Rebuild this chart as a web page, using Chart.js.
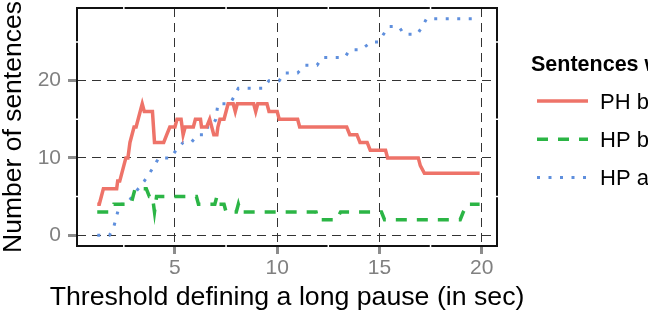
<!DOCTYPE html>
<html>
<head>
<meta charset="utf-8">
<script src="https://cdn.jsdelivr.net/npm/chart.js@4.4.1/dist/chart.umd.min.js"></script>
<style>
  html, body { margin: 0; padding: 0; background: #fff; overflow: hidden; }
  canvas { display: block; }
</style>
</head>
<body>
<canvas id="pauseChart" width="648" height="312"></canvas>
<script>
// Values (threshold in sec -> number of sentences)
const phT  = [1.2,1.3,1.4,1.5,2.15,2.2,2.3,2.4,2.5,2.6,2.7,2.8,2.9,3.0,3.1,3.2,3.3,3.4,3.5,3.9,4.0,4.45,4.6,4.75,5.0,5.1,5.3,5.4,5.5,5.9,6.0,6.25,6.3,6.55,6.7,6.8,6.9,7.05,7.1,7.2,7.4,7.5,7.6,7.85,7.95,8.05,8.85,8.95,9.05,9.5,9.6,10.0,10.1,11.0,11.1,13.4,13.55,13.9,14.05,14.4,14.55,15.3,15.4,16.9,17.0,17.2,19.9];
const phN  = [4,4,5,6,6,7,7,8,9,10,10,12,13,14,14,15,16,17,16,16,12,12,13,14,14,15,15,13,14,14,15,15,14,14,15,14,13,13,14,15,15,16,17,17,16,17,17,16,17,17,16,16,15,15,14,14,13,13,12,12,11,11,10,10,9,8,8];

const hpbT = [1.2,1.8,2.0,2.85,2.95,3.05,3.6,3.75,3.9,4.0,4.1,6.05,6.15,6.95,7.05,7.15,7.4,7.5,8.0,8.1,8.2,11.9,12.0,12.9,13.1,15.1,15.25,18.95,19.1,19.3,19.9];
const hpbN = [3,3,4,4,5,6,6,5,5,3,5,5,4,4,5,4,4,3,3,4,3,3,2,2,3,3,2,2,3,4,4];

const hpaT = [1.2,1.8,2.0,2.1,2.2,2.3,2.65,2.9,3.2,3.5,3.75,4.0,4.2,4.8,5.05,5.4,5.8,6.1,6.45,6.6,6.8,7.0,7.1,7.7,7.9,8.1,9.3,9.6,10.1,10.35,11.0,11.35,11.95,12.2,13.3,13.55,14.1,14.6,14.95,15.2,15.45,15.95,16.2,16.85,17.1,17.3,19.8];
const hpaN = [0,0,1,2,3,4,4,5,6,7,8,9,10,10,11,12,12,13,13,14,14,15,17,17,18,19,19,20,20,21,21,22,22,23,23,24,24,25,25,26,27,27,26,26,27,28,28];

const seriesLabels = ['PH before HP', 'HP before PH', 'HP after PH'];
const legendTitle = 'Sentences with';
const xTitle = 'Threshold defining a long pause (in sec)';
const yTitle = 'Number of sentences';
const xTicks = [5, 10, 15, 20];
const yTicks = [0, 10, 20];
const xMinor = [2.5, 7.5, 12.5, 17.5];
const yMinor = [5, 15, 25];

const FONT = "'Liberation Sans', Arial, Helvetica, sans-serif";
const pts = (t, n) => t.map((v, i) => ({ x: v, y: n[i] }));

// panel border (with white minor-grid notches), x title and the legend on the right
const panelPlugin = {
  id: 'panel',
  beforeDatasetsDraw(chart) {
    const { ctx, chartArea: a, scales } = chart;
    ctx.save();
    ctx.strokeStyle = '#111';
    ctx.lineWidth = 2;
    ctx.strokeRect(a.left, a.top, a.right - a.left, a.bottom - a.top);
    ctx.strokeStyle = '#fff';
    ctx.lineWidth = 1.5;
    ctx.beginPath();
    xMinor.forEach(v => {
      const px = scales.x.getPixelForValue(v);
      ctx.moveTo(px, a.top - 2); ctx.lineTo(px, a.top + 2);
      ctx.moveTo(px, a.bottom - 2); ctx.lineTo(px, a.bottom + 2);
    });
    yMinor.forEach(v => {
      const py = scales.y.getPixelForValue(v);
      ctx.moveTo(a.left - 2, py); ctx.lineTo(a.left + 2, py);
      ctx.moveTo(a.right - 2, py); ctx.lineTo(a.right + 2, py);
    });
    ctx.stroke();
    ctx.restore();
  },
  afterDraw(chart) {
    const { ctx, chartArea: a } = chart;
    ctx.save();
    ctx.fillStyle = '#000';
    ctx.textBaseline = 'alphabetic';
    // x axis title, drawn here so it is not squeezed to the panel width
    ctx.textAlign = 'center';
    ctx.font = '26.7px ' + FONT;
    ctx.fillText(xTitle, (a.left + a.right) / 2, 305);
    ctx.textAlign = 'left';
    ctx.font = 'bold 21.5px ' + FONT;
    ctx.fillText(legendTitle, 531, 71);
    chart.data.datasets.forEach((ds, i) => {
      const y = 101 + i * 38.3;
      ctx.strokeStyle = ds.borderColor;
      ctx.lineWidth = ds.borderWidth;
      ctx.setLineDash(ds.borderDash || []);
      ctx.beginPath();
      ctx.moveTo(537, y);
      ctx.lineTo(588, y);
      ctx.stroke();
      ctx.setLineDash([]);
      ctx.font = '22px ' + FONT;
      ctx.fillText(ds.label, 600, y + 7.8);
    });
    ctx.restore();
  }
};

const ctx = document.getElementById('pauseChart').getContext('2d');
new Chart(ctx, {
  type: 'line',
  data: {
    datasets: [
      { label: seriesLabels[0], data: pts(phT, phN), borderColor: '#EE7369', borderWidth: 3.5, borderDash: [] },
      { label: seriesLabels[1], data: pts(hpbT, hpbN), borderColor: '#2BB545', borderWidth: 3.5, borderDash: [11, 10] },
      { label: seriesLabels[2], data: pts(hpaT, hpaN), borderColor: '#5F8FDD', borderWidth: 3, borderDash: [3, 8.5] }
    ]
  },
  options: {
    responsive: false,
    animation: false,
    elements: { point: { radius: 0 }, line: { tension: 0, borderCapStyle: 'butt' } },
    layout: { padding: { top: 8, right: 151, bottom: 0, left: 0 } },
    plugins: { legend: { display: false }, tooltip: { enabled: false } },
    scales: {
      x: {
        type: 'linear',
        min: 0.21,
        max: 20.75,
        afterBuildTicks: s => { s.ticks = xTicks.map(v => ({ value: v })); },
        afterFit: s => { s.height = 66; s.paddingLeft = 0; s.paddingRight = 0; },
        grid: { color: '#333', lineWidth: 1, tickLength: 8, tickWidth: 3, tickColor: '#8c8c8c' },
        border: { display: false, dash: [9, 6] },
        ticks: { color: '#808080', font: { family: FONT, size: 21 }, padding: 2, maxRotation: 0 },
        title: { display: false }
      },
      y: {
        type: 'linear',
        min: -1.4,
        max: 29.4,
        afterBuildTicks: s => { s.ticks = yTicks.map(v => ({ value: v })); },
        afterFit: s => { s.width = 77; s.paddingTop = 0; s.paddingBottom = 0; },
        grid: { color: '#333', lineWidth: 1, tickLength: 9, tickWidth: 3, tickColor: '#8c8c8c' },
        border: { display: false, dash: [9, 6] },
        ticks: { color: '#808080', font: { family: FONT, size: 21 }, padding: 7 },
        title: { display: true, text: yTitle, color: '#000',
                 font: { family: FONT, size: 26.5, lineHeight: 1.0 }, padding: { top: 0, bottom: 0 } }
      }
    }
  },
  plugins: [panelPlugin]
});
</script>
</body>
</html>
